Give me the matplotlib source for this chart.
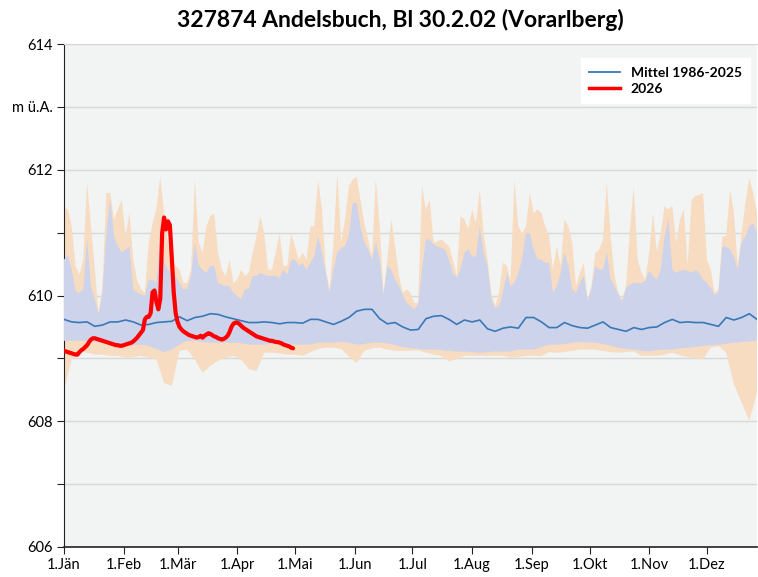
import numpy as np
import matplotlib.pyplot as plt
from matplotlib.lines import Line2D

plt.rcParams['font.family'] = ['Lato', 'DejaVu Sans']

# Upper envelope and upper quantile 1986-2025, every 2nd day (day 0 = 1. Jänner)
days_fine = np.arange(0, 361, 2)

lvl_max = [611.39, 611.37, 611.10, 610.47, 610.33, 610.57, 611.80, 611.10, 610.41, 609.72,
           610.15, 611.63, 611.63, 611.21, 611.37, 611.52, 610.94, 611.31, 610.57, 610.25,
           610.10, 610.04, 610.84, 611.15, 611.37, 611.89, 611.31, 610.84, 610.57, 610.47,
           610.41, 610.20, 610.20, 610.41, 611.84, 610.84, 610.68, 611.10, 611.26, 611.31,
           610.68, 610.41, 610.31, 610.57, 610.20, 610.25, 610.41, 610.31, 610.36, 610.68,
           610.94, 611.26, 610.99, 610.41, 610.41, 610.68, 610.99, 610.47, 610.47, 610.99,
           610.78, 610.57, 610.68, 610.57, 611.10, 611.10, 611.84, 611.37, 610.41, 610.10,
           610.84, 611.95, 610.84, 611.21, 611.74, 611.84, 611.89, 611.52, 611.15, 610.89,
           610.62, 611.84, 611.10, 610.04, 610.57, 611.21, 610.78, 610.31, 610.04, 610.10,
           610.04, 609.88, 609.88, 611.74, 611.37, 611.52, 610.84, 610.86, 610.89, 610.84,
           610.78, 610.57, 610.31, 611.26, 611.21, 611.05, 611.37, 611.15, 611.68, 610.99,
           610.57, 610.04, 609.83, 610.04, 610.52, 610.47, 610.25, 611.84, 611.10, 610.99,
           611.10, 611.63, 611.31, 611.37, 611.31, 611.10, 610.94, 610.41, 610.78, 610.47,
           611.21, 611.10, 610.84, 610.15, 610.36, 610.52, 609.94, 610.15, 610.68, 610.73,
           610.89, 611.79, 610.94, 610.31, 610.04, 609.94, 610.15, 611.05, 611.74, 610.57,
           610.36, 610.25, 610.68, 611.31, 610.68, 610.99, 611.42, 611.37, 611.42, 610.84,
           611.21, 611.37, 610.47, 611.52, 611.58, 611.60, 611.63, 610.57, 610.41, 610.04,
           610.10, 610.94, 610.94, 611.68, 611.31, 610.47, 610.99, 611.47, 611.87, 611.63,
           611.31]

lvl_hi = [610.57, 610.65, 610.41, 610.07, 610.04, 610.10, 610.89, 610.15, 609.94, 609.70,
          610.04, 610.99, 611.52, 610.94, 610.78, 610.68, 610.73, 610.78, 610.10, 610.04,
          610.02, 609.99, 610.25, 610.25, 610.20, 610.99, 610.52, 610.41, 610.36, 610.31,
          610.20, 610.10, 610.10, 610.31, 610.84, 610.47, 610.41, 610.36, 610.47, 610.47,
          610.20, 610.17, 610.15, 610.15, 610.04, 609.99, 609.94, 610.10, 610.10, 610.31,
          610.31, 610.36, 610.33, 610.31, 610.31, 610.31, 610.28, 610.41, 610.33, 610.57,
          610.57, 610.47, 610.52, 610.41, 610.52, 610.62, 610.94, 610.68, 610.36, 610.04,
          610.41, 610.68, 610.76, 610.78, 610.95, 611.47, 611.47, 611.10, 610.84, 610.73,
          610.57, 610.84, 610.57, 610.01, 610.47, 610.41, 610.25, 610.15, 610.01, 609.88,
          609.83, 609.78, 609.86, 610.41, 610.89, 610.89, 610.81, 610.78, 610.76, 610.73,
          610.57, 610.36, 610.28, 610.41, 610.68, 610.73, 610.62, 610.62, 611.10, 610.68,
          610.47, 609.94, 609.80, 609.83, 610.04, 610.36, 610.15, 610.20, 610.36, 610.57,
          610.99, 610.99, 610.73, 610.57, 610.57, 610.52, 610.52, 610.04, 610.15, 610.36,
          610.68, 610.47, 610.10, 610.04, 610.20, 610.31, 609.91, 610.10, 610.47, 610.41,
          610.41, 610.68, 610.25, 610.15, 610.01, 609.91, 610.12, 610.17, 610.20, 610.20,
          610.20, 610.23, 610.39, 610.31, 610.25, 610.41, 610.94, 611.21, 610.41, 610.36,
          610.39, 610.41, 610.39, 610.36, 610.41, 610.36, 610.25, 610.20, 610.12, 610.01,
          610.04, 610.78, 610.78, 610.73, 610.62, 610.41, 610.84, 610.94, 611.10, 611.15,
          611.00]

# Mean, lower quantile and lower envelope, every 4th day
days = np.arange(0, 361, 4)

lvl_mean = [609.62, 609.58, 609.57, 609.58, 609.51, 609.53, 609.58, 609.58, 609.61, 609.58,
            609.53, 609.54, 609.57, 609.58, 609.59, 609.66, 609.60, 609.65, 609.67, 609.71,
            609.70, 609.66, 609.63, 609.60, 609.57, 609.57, 609.58, 609.57, 609.55, 609.57,
            609.57, 609.56, 609.62, 609.62, 609.58, 609.54, 609.59, 609.65, 609.75, 609.78,
            609.78, 609.63, 609.55, 609.57, 609.50, 609.45, 609.46, 609.63, 609.67, 609.68,
            609.62, 609.54, 609.61, 609.58, 609.61, 609.47, 609.43, 609.48, 609.50, 609.48,
            609.65, 609.65, 609.58, 609.49, 609.49, 609.57, 609.52, 609.49, 609.48, 609.53,
            609.58, 609.49, 609.46, 609.43, 609.49, 609.46, 609.49, 609.50, 609.57, 609.62,
            609.57, 609.58, 609.57, 609.57, 609.54, 609.51, 609.65, 609.61, 609.65, 609.71,
            609.62]

lvl_lo = [609.28, 609.28, 609.28, 609.28, 609.26, 609.25, 609.23, 609.21, 609.20, 609.21,
          609.22, 609.20, 609.15, 609.10, 609.14, 609.22, 609.28, 609.28, 609.26, 609.25,
          609.25, 609.25, 609.25, 609.24, 609.22, 609.22, 609.22, 609.23, 609.24, 609.23,
          609.22, 609.22, 609.22, 609.25, 609.25, 609.25, 609.26, 609.25, 609.22, 609.23,
          609.25, 609.25, 609.24, 609.21, 609.18, 609.16, 609.15, 609.14, 609.14, 609.13,
          609.12, 609.11, 609.11, 609.10, 609.09, 609.10, 609.11, 609.11, 609.11, 609.14,
          609.14, 609.14, 609.18, 609.22, 609.22, 609.23, 609.25, 609.26, 609.25, 609.25,
          609.23, 609.20, 609.17, 609.15, 609.14, 609.12, 609.11, 609.13, 609.14, 609.14,
          609.16, 609.17, 609.18, 609.20, 609.21, 609.22, 609.23, 609.25, 609.26, 609.27,
          609.28]

lvl_min = [608.51, 608.98, 609.12, 609.09, 609.06, 609.06, 609.04, 609.04, 609.01, 609.02,
           609.04, 609.01, 608.99, 608.61, 608.56, 609.12, 609.14, 608.98, 608.77, 608.88,
           608.96, 609.01, 609.04, 608.98, 608.83, 608.80, 609.09, 609.09, 609.08, 609.06,
           609.06, 609.04, 609.10, 609.15, 609.17, 609.17, 609.15, 609.03, 608.93, 609.12,
           609.16, 609.17, 609.14, 609.12, 609.12, 609.12, 609.13, 609.09, 609.06, 609.04,
           608.95, 608.99, 609.04, 609.04, 609.04, 609.04, 609.04, 609.04, 609.01, 609.02,
           609.04, 609.04, 609.04, 609.10, 609.09, 609.10, 609.12, 609.14, 609.14, 609.14,
           609.12, 609.10, 609.09, 609.10, 609.11, 609.04, 609.04, 609.04, 609.06, 609.09,
           609.05, 609.02, 609.00, 608.99, 609.17, 609.20, 609.09, 608.59, 608.30, 608.01,
           608.45]

# 2026, daily values from 1. Jänner
lvl_2026 = [609.12, 609.11, 609.10, 609.09, 609.08, 609.07, 609.06, 609.06, 609.10, 609.13,
            609.15, 609.18, 609.21, 609.26, 609.30, 609.32, 609.32, 609.31, 609.30, 609.29,
            609.28, 609.27, 609.26, 609.25, 609.24, 609.23, 609.22, 609.21, 609.21, 609.20,
            609.20, 609.21, 609.22, 609.23, 609.24, 609.25, 609.27, 609.30, 609.33, 609.37,
            609.41, 609.45, 609.62, 609.66, 609.66, 609.72, 610.05, 610.08, 609.90, 609.78,
            609.95, 611.00, 611.24, 611.05, 611.18, 611.12, 610.60, 610.05, 609.72, 609.58,
            609.50, 609.46, 609.43, 609.41, 609.39, 609.37, 609.36, 609.35, 609.34, 609.33,
            609.34, 609.36, 609.33, 609.36, 609.38, 609.40, 609.39, 609.37, 609.35, 609.34,
            609.32, 609.31, 609.30, 609.31, 609.33, 609.36, 609.42, 609.50, 609.55, 609.57,
            609.57, 609.55, 609.52, 609.49, 609.47, 609.45, 609.43, 609.41, 609.39, 609.37,
            609.35, 609.34, 609.33, 609.32, 609.31, 609.30, 609.29, 609.28, 609.28, 609.27,
            609.26, 609.26, 609.25, 609.24, 609.22, 609.21, 609.20, 609.19, 609.17, 609.16]
days_2026 = np.arange(len(lvl_2026))

month_days = [0, 31, 59, 90, 120, 151, 181, 212, 243, 273, 304, 334]
month_labels = ['1.Jän', '1.Feb', '1.Mär', '1.Apr', '1.Mai', '1.Jun',
                '1.Jul', '1.Aug', '1.Sep', '1.Okt', '1.Nov', '1.Dez']

fig = plt.figure(figsize=(7.58, 5.77), dpi=100)
ax = fig.add_axes([64 / 758, 1 - 547 / 577, 693 / 758, 503 / 577])
ax.set_facecolor('#f2f3f3')

# bands as closed polygons: upper edge on the 2-day grid, lower edge on the 4-day grid
ax.fill(np.r_[days_fine, days[::-1]], np.r_[lvl_max, lvl_min[::-1]],
        color='#f7dcc1', lw=0, zorder=2)
ax.fill(np.r_[days_fine, days[::-1]], np.r_[lvl_hi, lvl_lo[::-1]],
        color='#ccd3ea', lw=0, zorder=3)
ax.plot(days, lvl_mean, color='#3a78b8', lw=1.2, zorder=4)
ax.plot(days_2026, lvl_2026, color='#ff0000', lw=3, zorder=5,
        solid_joinstyle='round', solid_capstyle='round')

ax.set_xlim(0, 360)
ax.set_ylim(606, 614)
ax.set_yticks(range(606, 615))
ax.set_yticklabels(['606', '', '608', '', '610', '', '612', 'm ü.A.', '614'])
ax.set_xticks(month_days)
ax.set_xticklabels(month_labels)
ax.tick_params(axis='both', labelsize=10.5, length=5, color='#222222', pad=3)
ax.yaxis.grid(True, color='#d8d8d8', lw=1)
ax.set_axisbelow(True)

ax.spines['right'].set_visible(False)
ax.spines['top'].set_color('#d8d8d8')
ax.spines['left'].set_color('#222222')
ax.spines['bottom'].set_color('#222222')
ax.spines['bottom'].set_linewidth(1.2)

handles = [Line2D([], [], color='#3a78b8', lw=1.3),
           Line2D([], [], color='#ff0000', lw=2.5)]
leg = ax.legend(handles, ['Mittel 1986-2025', '2026'], loc='upper right',
                bbox_to_anchor=(1.0, 0.985), frameon=True, fancybox=False,
                prop={'weight': 'bold', 'size': 10}, handlelength=2.2,
                borderpad=0.6, labelspacing=0.3)
leg.get_frame().set_edgecolor('white')
leg.get_frame().set_facecolor('white')
leg.get_frame().set_alpha(1)

fig.suptitle('327874 Andelsbuch, Bl 30.2.02 (Vorarlberg)', x=0.528, y=0.985,
             fontsize=16.5, fontweight='bold')

fig.savefig('out.png', dpi=100)
